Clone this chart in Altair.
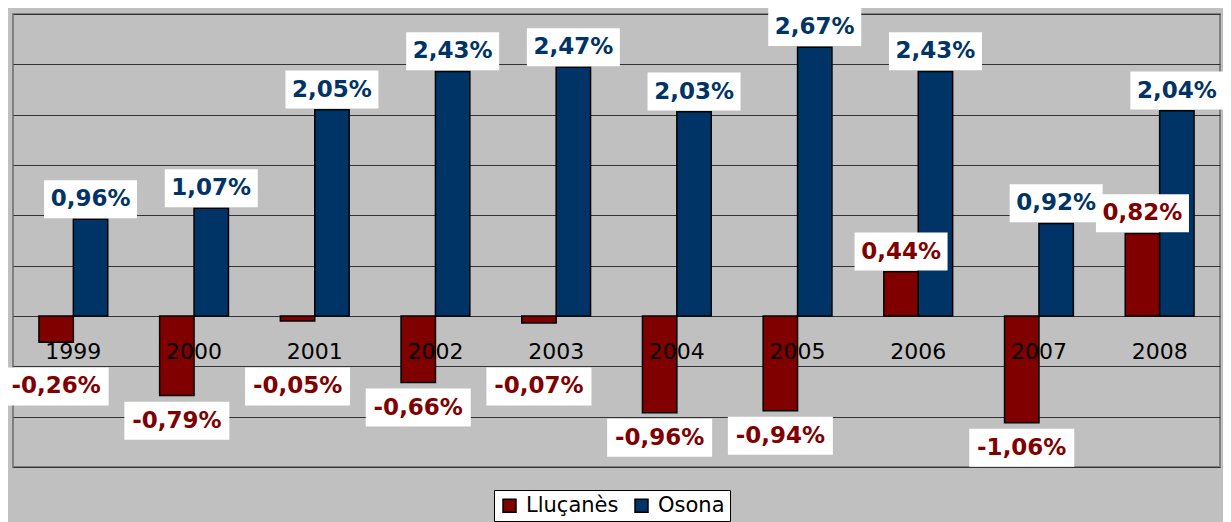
import altair as alt
import pandas as pd
import numpy as np

years = ["1999", "2000", "2001", "2002", "2003", "2004", "2005", "2006", "2007", "2008"]
llucanes = [-0.26, -0.79, -0.05, -0.66, -0.07, -0.96, -0.94, 0.44, -1.06, 0.82]
osona = [0.96, 1.07, 2.05, 2.43, 2.47, 2.03, 2.67, 2.43, 0.92, 2.04]
series = ["Lluçanès", "Osona"]
colors = ["#800000", "#003366"]
y_ticks = [-1.5, -1.0, -0.5, 0.0, 0.5, 1.0, 1.5, 2.0, 2.5, 3.0]

rows = []
for i, yr in enumerate(years):
    for s, vals in zip(series, [llucanes, osona]):
        v = vals[i]
        rows.append(dict(year=yr, series=s, value=v,
                         label=f"{v:.2f}%".replace(".", ",")))
df = pd.DataFrame(rows)
# label anchor: above positive bars, below negative bars (clear of year labels)
df["label_y"] = np.where(df["value"] >= 0, df["value"] + 0.2,
                         np.minimum(df["value"], -0.45) - 0.25)
df["sign"] = np.where(df["value"] >= 0, "pos", "neg")
years_df = pd.DataFrame({"year": years})

FONT = "DejaVu Sans"

xs = alt.X("year:N", scale=alt.Scale(domain=years, paddingInner=0.43, paddingOuter=0.215), axis=None)
xo = alt.XOffset("series:N", scale=alt.Scale(domain=series, paddingInner=0, paddingOuter=0))
yscale = alt.Scale(domain=[-1.5, 3], nice=False, zero=False)

bars = alt.Chart(df).mark_bar(stroke="black", strokeWidth=1.5).encode(
    x=xs,
    xOffset=xo,
    y=alt.Y("value:Q", scale=yscale,
            axis=alt.Axis(values=y_ticks, grid=True, gridColor="#333333", gridWidth=1,
                          labels=False, ticks=False, domain=False, title=None)),
    y2=alt.datum(0),
    color=alt.Color("series:N", scale=alt.Scale(domain=series, range=colors),
                    legend=alt.Legend(orient="none", legendX=481, legendY=476,
                                      direction="horizontal", title=None,
                                      fillColor="white", strokeColor="black",
                                      padding=5, symbolType="square", symbolSize=169,
                                      symbolStrokeColor="black", symbolStrokeWidth=1.5,
                                      labelFontSize=21, labelFont=FONT, labelColor="black",
                                      columnPadding=12, labelOffset=6)),
)

year_text = alt.Chart(years_df).mark_text(
    dy=36, fontSize=22, font=FONT, color="black", baseline="middle"
).encode(
    x=alt.X("year:N", scale=alt.Scale(domain=years, paddingInner=0.43, paddingOuter=0.215), axis=None),
    y=alt.datum(0),
    text="year:N",
)

pos_path = "M-0.93,-0.38 H0.93 V0.38 H-0.93 Z"
neg_path = "M-1.05,-0.38 H1.05 V0.38 H-1.05 Z"

box_pos = alt.Chart(df).transform_filter(alt.datum.sign == "pos").mark_point(
    shape=pos_path, size=10000, filled=True, fill="white", strokeWidth=0, opacity=1
).encode(x=xs, xOffset=xo, y=alt.Y("label_y:Q", scale=yscale))

box_neg = alt.Chart(df).transform_filter(alt.datum.sign == "neg").mark_point(
    shape=neg_path, size=10000, filled=True, fill="white", strokeWidth=0, opacity=1
).encode(x=xs, xOffset=xo, y=alt.Y("label_y:Q", scale=yscale))

labels = alt.Chart(df).mark_text(
    fontSize=23, fontWeight="bold", font=FONT, baseline="middle"
).encode(
    x=xs, xOffset=xo,
    y=alt.Y("label_y:Q", scale=yscale),
    text="label:N",
    color=alt.Color("series:N", scale=alt.Scale(domain=series, range=colors), legend=None),
)

chart = alt.layer(bars, year_text, box_pos, box_neg, labels).properties(
    width=1207, height=453,
    autosize=alt.AutoSizeParams(type="none"),
    padding={"left": 5, "top": 6, "right": 3, "bottom": 55},
    background="#C0C0C0",
).configure_view(
    fill="#C0C0C0", stroke="#808080", strokeWidth=2
)

chart.save("out.html", embed_options={"renderer": "svg", "actions": False})
